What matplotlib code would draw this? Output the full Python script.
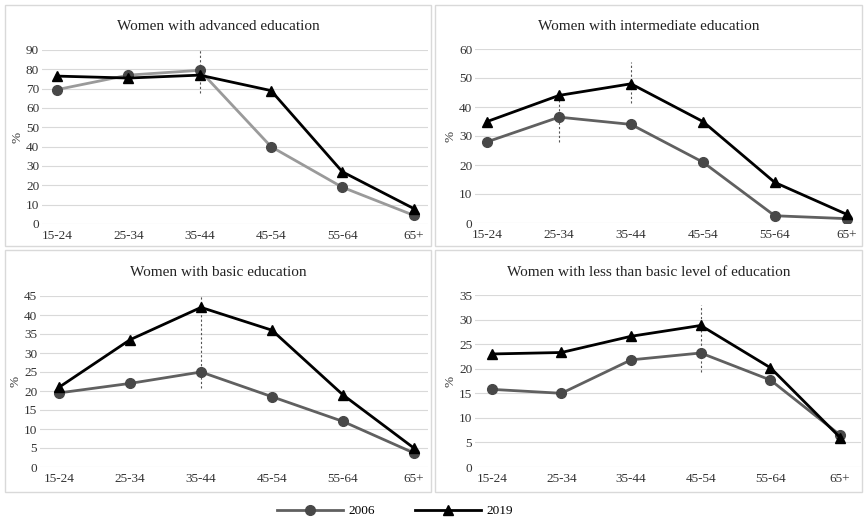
import matplotlib.pyplot as plt
from matplotlib.patches import Rectangle
from matplotlib.lines import Line2D

plt.rcParams['font.family'] = ['Liberation Serif', 'DejaVu Serif']

ages = ['15-24', '25-34', '35-44', '45-54', '55-64', '65+']

titles = ['Women with advanced education',
          'Women with intermediate education',
          'Women with basic education',
          'Women with less than basic level of education']

adv_2006 = [69.5, 77, 79.5, 40, 19, 4.5]
adv_2019 = [76.5, 75.5, 77, 69, 27, 8]
int_2006 = [28, 36.5, 34, 21, 2.5, 1.5]
int_2019 = [35, 44, 48, 35, 14, 3]
bas_2006 = [19.5, 22, 25, 18.5, 12, 3.7]
bas_2019 = [21, 33.5, 42, 36, 19, 5]
low_2006 = [15.8, 15, 21.8, 23.2, 17.7, 6.5]
low_2019 = [23, 23.3, 26.6, 28.8, 20.2, 6]

y_max = [90, 60, 45, 35]
y_step = [10, 10, 5, 5]

# dashed marker lines: (category index, y from, y to)
dashes = [[(2, 68, 91)],
          [(1, 28, 44.5), (2, 41.5, 55.5)],
          [(2, 20.8, 47.4)],
          [(3, 19.3, 33)]]

series_2006 = [adv_2006, int_2006, bas_2006, low_2006]
series_2019 = [adv_2019, int_2019, bas_2019, low_2019]
line_2006 = ['#9a9a9a', '#606060', '#606060', '#606060']

W, H = 866, 519
fig = plt.figure(figsize=(W / 100, H / 100), dpi=100)

# panel boxes (px): x0, y0, x1, y1
boxes = [(5, 5, 431, 246), (435, 5, 862, 246),
         (5, 250, 431, 492), (435, 250, 862, 492)]
# axes areas (px): left, top(ymax), right, bottom(0)
areas = [(42, 50, 428, 224), (475, 49, 861, 223),
         (40, 296, 428, 467), (475, 295, 861, 467)]
xlims = [(-0.21, 5.2), (-0.17, 5.2), (-0.27, 5.2), (-0.24, 5.3)]
title_y = [27, 27, 273, 273]

for k in range(4):
    x0, y0, x1, y1 = boxes[k]
    fig.add_artist(Rectangle((x0 / W, 1 - y1 / H), (x1 - x0) / W, (y1 - y0) / H,
                             transform=fig.transFigure, fill=False,
                             edgecolor='#d9d9d9', lw=1))
    fig.text((x0 + x1) / 2 / W, 1 - title_y[k] / H, titles[k], ha='center',
             va='center', fontsize=11, color='#222222')
    l, t, r, b = areas[k]
    ax = fig.add_axes([l / W, 1 - b / H, (r - l) / W, (b - t) / H])
    x = list(range(len(ages)))
    for ci, ya, yb in dashes[k]:
        ax.plot([ci, ci], [ya, yb], color='#555555', lw=0.8, ls=(0, (2, 2)), zorder=1)
    ax.plot(x, series_2006[k], color=line_2006[k], lw=2, marker='o', ms=7,
            mfc='#484848', mec='#484848', zorder=3)
    ax.plot(x, series_2019[k], color='black', lw=2, marker='^', ms=6.5,
            mfc='black', mec='black', zorder=4)
    ax.set_ylim(0, y_max[k])
    ax.set_xlim(*xlims[k])
    ax.set_yticks(range(0, y_max[k] + 1, y_step[k]))
    ax.set_xticks(x)
    ax.set_xticklabels(ages)
    ax.grid(axis='y', color='#d9d9d9', lw=0.8)
    ax.set_axisbelow(True)
    for s in ax.spines.values():
        s.set_visible(False)
    ax.tick_params(length=0, labelsize=9.5, colors='#333333', pad=4)
    ax.tick_params(axis='y', pad=2)
    ax.set_ylabel('%', fontsize=9.5, color='#333333', labelpad=2)
    ax.patch.set_alpha(0)

handles = [Line2D([], [], color='#606060', lw=2, marker='o', ms=7,
                  mfc='#484848', mec='#484848'),
           Line2D([], [], color='black', lw=2, marker='^', ms=7)]
fig.legend(handles, ['2006', '2019'], loc='center',
           bbox_to_anchor=(0.456, 1 - 511 / H),
           ncol=2, frameon=False, fontsize=9.5, handlelength=5, columnspacing=3,
           handletextpad=0.4)

fig.savefig('out.png', dpi=100)
